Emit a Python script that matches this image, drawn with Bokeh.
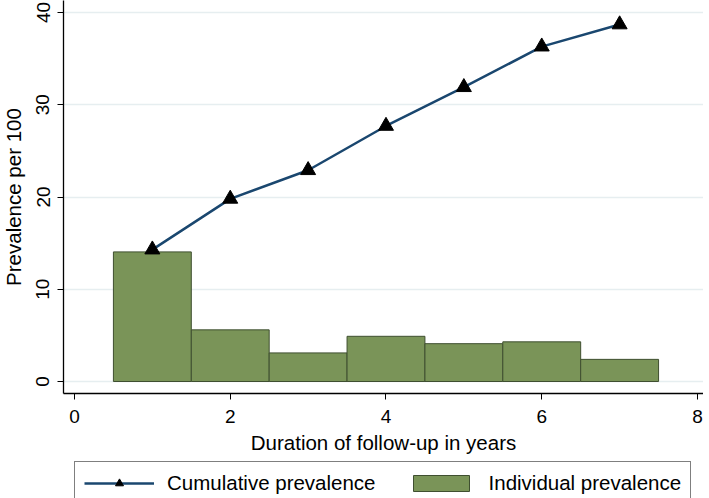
from bokeh.plotting import figure
from bokeh.layouts import column
from bokeh.models import Range1d, Legend, LegendItem, FixedTicker, ColumnDataSource
from bokeh.embed import file_html
from bokeh.resources import INLINE

years = [1, 2, 3, 4, 5, 6, 7]
cumulative = [14.3, 19.8, 22.9, 27.7, 31.9, 36.3, 38.7]
individual = [14.05, 5.6, 3.1, 4.9, 4.1, 4.3, 2.4]
x_ticks = [0, 2, 4, 6, 8]
y_ticks = [0, 10, 20, 30, 40]
legend_labels = ["Cumulative prevalence", "Individual prevalence"]

FONT = "Liberation Sans"
BAR_FILL = "#7a9458"
BAR_LINE = "#3f4f30"
LINE_COL = "#1a476f"

p = figure(width=715, height=456, output_backend="svg", toolbar_location=None,
           x_range=Range1d(-0.141, 8.077), y_range=Range1d(-1.3, 41.3),
           min_border_left=61, min_border_right=0, min_border_top=0, min_border_bottom=62)
p.margin = (0, 0, 0, -6)
p.outline_line_color = None
p.background_fill_color = "white"
p.border_fill_color = "white"

src_b = ColumnDataSource(dict(x=years, top=individual))
p.vbar(x="x", top="top", width=1.0, bottom=0, source=src_b,
       fill_color=BAR_FILL, line_color=BAR_LINE, line_width=1)
src_l = ColumnDataSource(dict(x=years, y=cumulative))
p.line("x", "y", source=src_l, line_color=LINE_COL, line_width=2.5)
p.scatter("x", "y", source=src_l, marker="triangle", size=15,
          fill_color="black", line_color="black")

p.xaxis.ticker = FixedTicker(ticks=x_ticks)
p.yaxis.ticker = FixedTicker(ticks=y_ticks)
p.xaxis.axis_label = "Duration of follow-up in years"
p.yaxis.axis_label = "Prevalence per 100"
for ax in (p.xaxis[0], p.yaxis[0]):
    ax.axis_line_color = "black"
    ax.axis_line_width = 1.3
    ax.major_tick_line_color = "black"
    ax.major_tick_out = 6
    ax.major_tick_in = 0
    ax.minor_tick_line_color = None
    ax.major_label_text_font = FONT
    ax.major_label_text_font_size = "19px"
    ax.major_label_text_color = "black"
    ax.axis_label_text_font = FONT
    ax.axis_label_text_font_size = "20.5px"
    ax.axis_label_text_font_style = "normal"
    ax.axis_label_text_color = "black"
p.yaxis.major_label_orientation = "vertical"
p.xaxis.major_label_standoff = 10
p.yaxis.major_label_standoff = 8
p.xaxis.axis_label_standoff = 5
p.yaxis.axis_label_standoff = 9

p.xgrid.grid_line_color = None
p.ygrid.grid_line_color = "#e6eef0"
p.ygrid.grid_line_width = 1.5

# legend strip below the chart (legend-only renderers sit outside the visible range)
q = figure(width=709, height=42, output_backend="svg", toolbar_location=None,
           x_range=Range1d(0, 1), y_range=Range1d(0, 1),
           min_border_left=69, min_border_right=0, min_border_top=0, min_border_bottom=0)
q.axis.visible = False
q.grid.visible = False
q.outline_line_color = None
dummy = ColumnDataSource(dict(x=[-5], y=[-5], top=[-5]))
lr = q.line("x", "y", source=dummy, line_color=LINE_COL, line_width=2.5)
sr = q.scatter("x", "y", source=dummy, marker="triangle", size=15,
               fill_color="black", line_color="black")
br = q.vbar(x="x", top="top", width=0.1, source=dummy,
            fill_color=BAR_FILL, line_color=BAR_LINE)
legend = Legend(items=[
    LegendItem(label=legend_labels[0], renderers=[lr, sr]),
    LegendItem(label=legend_labels[1], renderers=[br]),
], orientation="horizontal", location="top_left")
legend.label_text_font = FONT
legend.label_text_font_size = "20.5px"
legend.label_text_color = "black"
legend.glyph_width = 70
legend.glyph_height = 20
legend.label_standoff = 13
legend.spacing = 30
legend.padding = 9
legend.margin = 5
legend.border_line_color = "black"
legend.border_line_width = 1.2
legend.background_fill_color = "white"
q.add_layout(legend, "center")

open("out.html", "w").write(file_html(column(p, q, spacing=0), INLINE))
